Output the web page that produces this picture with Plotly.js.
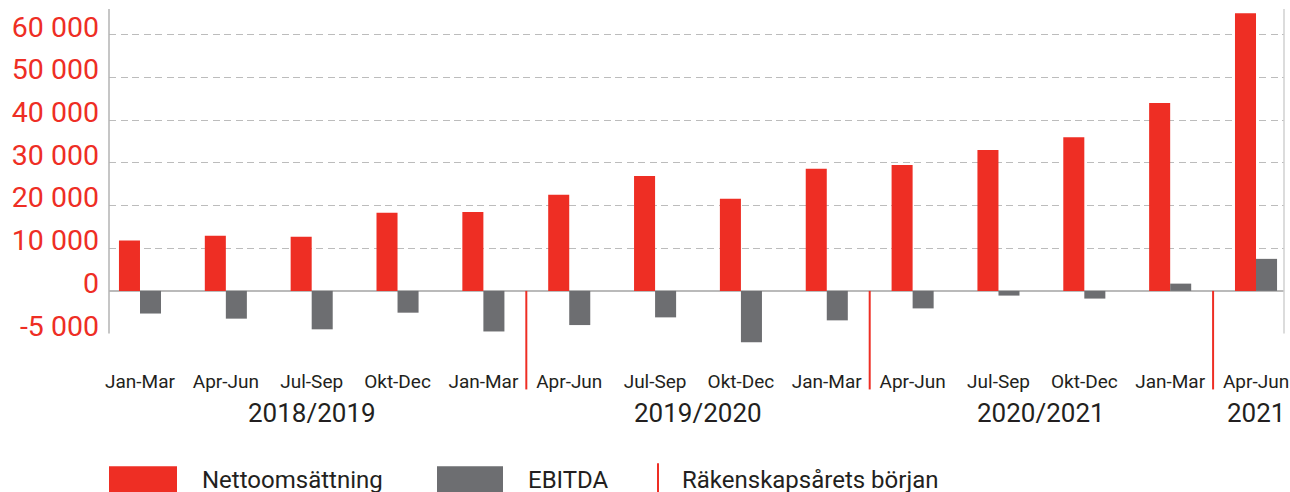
<!DOCTYPE html>
<html><head><meta charset="utf-8">
<script src="https://cdn.plot.ly/plotly-3.0.1.min.js"></script>
<style>html,body{margin:0;padding:0;background:#fff;overflow:hidden}</style>
</head><body><div id="chart" style="width:1290px;height:492px"></div>
<script>
// ---- data ----
const quarters = ['Jan-Mar','Apr-Jun','Jul-Sep','Okt-Dec','Jan-Mar','Apr-Jun','Jul-Sep','Okt-Dec','Jan-Mar','Apr-Jun','Jul-Sep','Okt-Dec','Jan-Mar','Apr-Jun'];
const fiscalYears = ['2018/2019','2018/2019','2018/2019','2018/2019','2018/2019','2019/2020','2019/2020','2019/2020','2019/2020','2020/2021','2020/2021','2020/2021','2020/2021','2021'];
const netSales = [11800, 12900, 12700, 18300, 18500, 22500, 26900, 21600, 28600, 29500, 33000, 36000, 44000, 65000];
const ebitda = [-5300, -6500, -9000, -5100, -9500, -8000, -6200, -12000, -6900, -4100, -1100, -1800, 1700, 7500];
const yTickVals = [-10000, 0, 10000, 20000, 30000, 40000, 50000, 60000];
const yTickText = ['-5 000', '0', '10 000', '20 000', '30 000', '40 000', '50 000', '60 000'];
const gridVals = [10000, 20000, 30000, 40000, 50000, 60000];
const seriesNames = ['Nettoomsättning', 'EBITDA'];
const fiscalStartLabel = 'Räkenskapsårets början';

// ---- style / layout ----
const RED = '#EE2E24', GREY = '#6D6E71', TEXT = '#231F20';
const W = 1290, H = 492, L = 109, R = 6, T = 9, B = 148.5;
const plotW = W - L - R, plotH = H - T - B;
const yRange = [-12200, 66000];
const xRange = [-0.361, 13.326];
const py = p => (H - B - p) / plotH;   // pixel row -> paper y
const pxp = p => (p - L) / plotW;      // pixel col -> paper x
const FONT = 'Roboto, "Noto Sans", sans-serif';

const idx = quarters.map((_, i) => i);

const traces = [
  {type:'bar', x: idx, y: netSales, name: seriesNames[0], marker:{color:RED}, hoverinfo:'skip'},
  {type:'bar', x: idx, y: ebitda, name: seriesNames[1], marker:{color:GREY}, hoverinfo:'skip'},
  {type:'scatter', x:[idx[0]], y:[0], yaxis:'y2', mode:'markers', marker:{opacity:0}, showlegend:false, hoverinfo:'skip'}
];

// fiscal year groups
const groups = [];
fiscalYears.forEach((fy, i) => {
  if (!groups.length || groups[groups.length-1].name !== fy) groups.push({name: fy, start: i, end: i});
  else groups[groups.length-1].end = i;
});
const boundaries = groups.slice(1).map(g => g.start - 0.5);
const zeroPaper = (0 - yRange[0]) / (yRange[1] - yRange[0]);

const shapes = [];
boundaries.forEach(b => shapes.push({type:'line', xref:'x', yref:'paper', x0:b, x1:b, y0:zeroPaper, y1:py(390), line:{color:RED, width:2}}));
// y-axis line and right border
shapes.push({type:'line', xref:'paper', yref:'y', x0:0, x1:0, y0:yTickVals[0], y1:yRange[1], line:{color:'#b3b3b3', width:1.5}});
shapes.push({type:'line', xref:'paper', yref:'y', x0:1, x1:1, y0:yTickVals[0], y1:yRange[1], line:{color:'#d0d0d0', width:1.5}});
// legend swatches
shapes.push({type:'rect', xref:'paper', yref:'paper', x0:pxp(109), x1:pxp(177), y0:py(467), y1:py(500), fillcolor:RED, line:{width:0}});
shapes.push({type:'rect', xref:'paper', yref:'paper', x0:pxp(437), x1:pxp(503), y0:py(467), y1:py(500), fillcolor:GREY, line:{width:0}});
shapes.push({type:'line', xref:'paper', yref:'paper', x0:pxp(658), x1:pxp(658), y0:py(464), y1:py(500), line:{color:RED, width:2}});

const annotations = groups.map(g => ({
  xref:'x', yref:'paper', x:(g.start + g.end)/2, y:py(414), text:g.name, showarrow:false,
  xanchor:'center', yanchor:'middle', font:{family:FONT, size:26, color:TEXT}
}));
[[201, seriesNames[0]], [527, seriesNames[1]], [681, fiscalStartLabel]].forEach(([x, t]) => {
  annotations.push({xref:'paper', yref:'paper', x:pxp(x), y:py(481), text:t, showarrow:false,
    xanchor:'left', yanchor:'middle', borderpad:0, font:{family:FONT, size:24, color:TEXT}});
});

const layout = {
  width: W, height: H,
  margin: {l:L, r:R, t:T, b:B, pad:0},
  paper_bgcolor:'#fff', plot_bgcolor:'#fff',
  showlegend:false,
  barmode:'group', bargap:0.51, bargroupgap:0,
  font:{family:FONT, color:TEXT},
  xaxis:{
    range:xRange, tickmode:'array', tickvals:idx, ticktext:quarters,
    showgrid:false, zeroline:false, showline:false, ticks:'',
    ticklabelstandoff:25, tickfont:{family:FONT, size:19, color:TEXT}, fixedrange:true
  },
  yaxis:{
    range:yRange, tickmode:'array', tickvals:gridVals, showticklabels:false,
    showgrid:true, gridcolor:'#bcbcbc', gridwidth:1, griddash:'7px,4.5px',
    zeroline:true, zerolinecolor:'#bababa', zerolinewidth:1.5, showline:false, ticks:'', fixedrange:true
  },
  yaxis2:{
    overlaying:'y', side:'left', range:yRange, tickmode:'array', tickvals:yTickVals, ticktext:yTickText,
    showgrid:false, zeroline:false, showline:false, ticks:'',
    ticklabelshift:-8, ticklabelstandoff:9,
    tickfont:{family:FONT, size:28.5, color:RED}, fixedrange:true
  },
  shapes: shapes,
  annotations: annotations
};

Plotly.newPlot('chart', traces, layout, {displayModeBar:false, staticPlot:true});
</script>
</body></html>
